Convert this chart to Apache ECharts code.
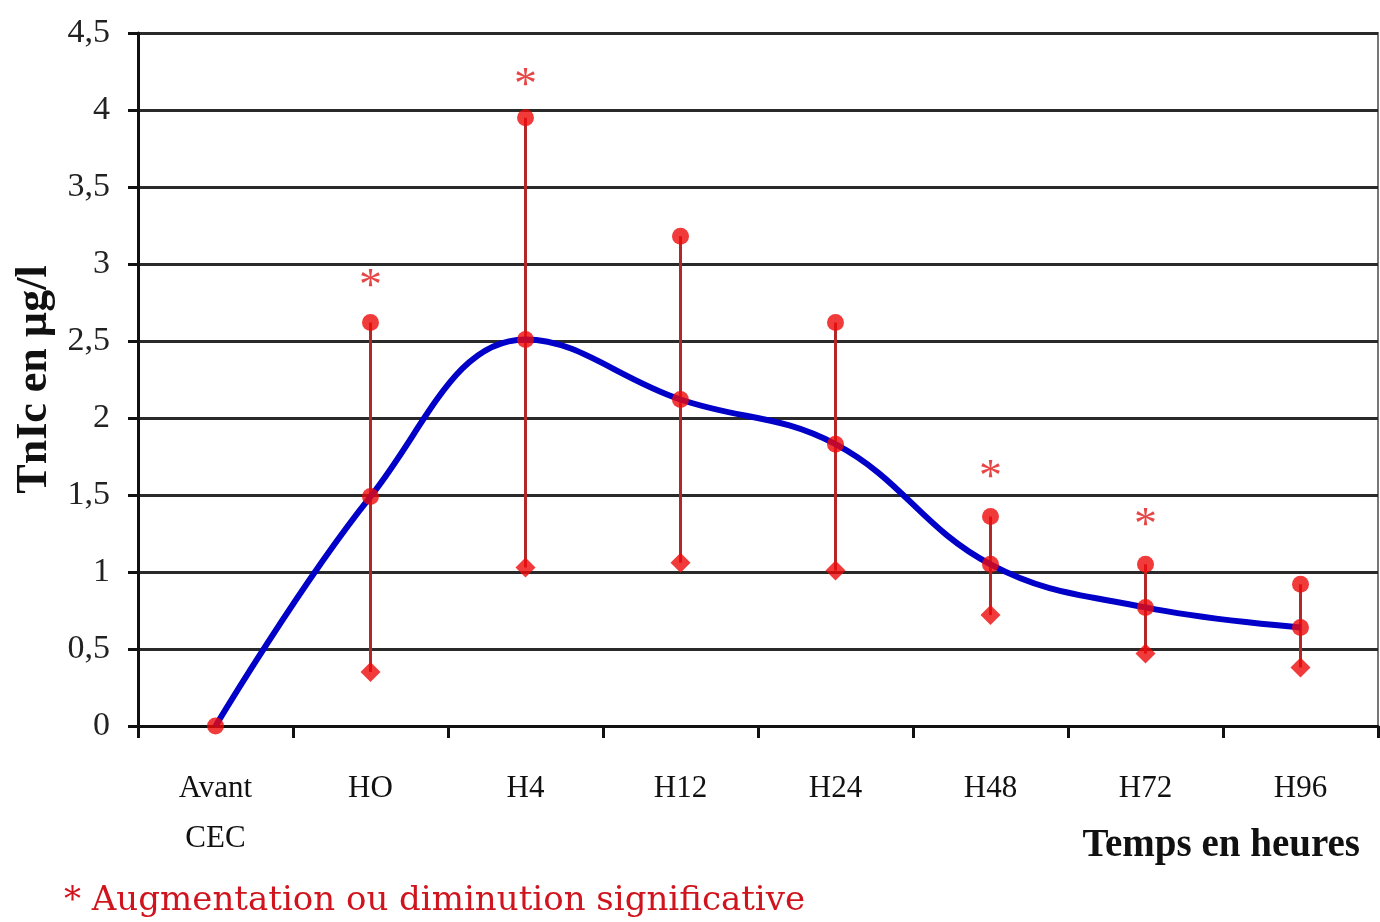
<!DOCTYPE html>
<html>
<head>
<meta charset="utf-8">
<script src="https://cdn.jsdelivr.net/npm/echarts@6/dist/echarts.min.js"></script>
<style>
  html, body { margin: 0; padding: 0; background: #fff; }
  #chart { width: 1380px; height: 922px; }
</style>
</head>
<body>
<div id="chart"></div>
<script>
// valeurs
const categories = ['Avant\nCEC', 'HO', 'H4', 'H12', 'H24', 'H48', 'H72', 'H96'];
const meanValues = [0, 1.49, 2.51, 2.12, 1.83, 1.05, 0.77, 0.64];
const upperValues = [null, 2.62, 3.95, 3.18, 2.62, 1.36, 1.05, 0.92];
const lowerValues = [null, 0.35, 1.03, 1.06, 1.01, 0.72, 0.47, 0.38];
const starValues = [null, 2.90, 4.21, null, null, 1.66, 1.35, null];

const serif = '"Liberation Serif", "DejaVu Serif", serif';
const chart = echarts.init(document.getElementById('chart'));

const errorData = [];
categories.forEach((c, i) => {
   if (upperValues[i] != null) {
      errorData.push([i, lowerValues[i], upperValues[i]]);
   }
});

const option = {
   animation: false,
   backgroundColor: '#fff',
   grid: {
      left: 138,
      right: 2,
      top: 33,
      bottom: 196,
      show: true,
      borderColor: '#777',
      borderWidth: 2
   },
   xAxis: {
      type: 'category',
      data: categories,
      axisLine: { lineStyle: { color: '#111', width: 3 } },
      axisTick: { show: true, length: 12, lineStyle: { color: '#111', width: 3 } },
      axisLabel: {
         fontFamily: serif,
         fontSize: 31,
         color: '#111',
         margin: 38,
         lineHeight: 50
      }
   },
   yAxis: {
      type: 'value',
      min: 0,
      max: 4.5,
      interval: 0.5,
      name: 'TnIc en µg/l',
      nameLocation: 'middle',
      nameGap: 80,
      nameTextStyle: {
         fontFamily: serif,
         fontWeight: 'bold',
         fontSize: 44,
         color: '#111'
      },
      axisLine: { show: true, lineStyle: { color: '#111', width: 3 } },
      axisTick: { show: true, length: 10, lineStyle: { color: '#111', width: 3 } },
      axisLabel: {
         fontFamily: serif,
         fontSize: 34,
         color: '#222',
         margin: 28,
         formatter: v => String(v).replace('.', ',')
      },
      splitLine: { lineStyle: { color: '#2a2a2a', width: 3 } }
   },
   series: [
      {
         type: 'custom',
         z: 2,
         data: errorData,
         encode: { x: 0, y: [1, 2] },
         renderItem: function (params, api) {
            const lo = api.coord([api.value(0), api.value(1)]);
            const hi = api.coord([api.value(0), api.value(2)]);
            return {
               type: 'line',
               shape: { x1: lo[0], y1: lo[1], x2: hi[0], y2: hi[1] },
               style: { stroke: '#b22828', lineWidth: 3 }
            };
         }
      },
      {
         type: 'line',
         z: 3,
         data: meanValues,
         smooth: 0.4,
         symbol: 'none',
         lineStyle: { color: '#0000c8', width: 6 }
      },
      {
         type: 'scatter',
         z: 4,
         data: meanValues,
         symbol: 'circle',
         symbolSize: 17,
         itemStyle: { color: '#ee0a0a' }
      },
      {
         type: 'scatter',
         z: 4,
         data: upperValues,
         symbol: 'circle',
         symbolSize: 17,
         itemStyle: { color: '#ee0a0a' }
      },
      {
         type: 'scatter',
         z: 4,
         data: lowerValues,
         symbol: 'diamond',
         symbolSize: 20,
         itemStyle: { color: '#ee0a0a' }
      },
      {
         type: 'scatter',
         z: 4,
         data: starValues,
         symbolSize: 1,
         itemStyle: { color: 'rgba(0,0,0,0)' },
         label: {
            show: true,
            position: 'inside',
            formatter: '*',
            fontFamily: serif,
            fontSize: 46,
            color: '#e01818',
            offset: [0, 9]
         }
      }
   ],
   graphic: [
      {
         type: 'text',
         right: 20,
         top: 826,
         style: {
            text: 'Temps en heures',
            fontFamily: serif,
            fontWeight: 'bold',
            fontSize: 39,
            fill: '#111'
         }
      },
      {
         type: 'text',
         left: 64,
         top: 884,
         style: {
            text: '* Augmentation ou diminution significative',
            fontFamily: '"DejaVu Serif", serif',
            fontSize: 34,
            fill: '#d0141e'
         }
      }
   ]
};

chart.setOption(option);
</script>
</body>
</html>
